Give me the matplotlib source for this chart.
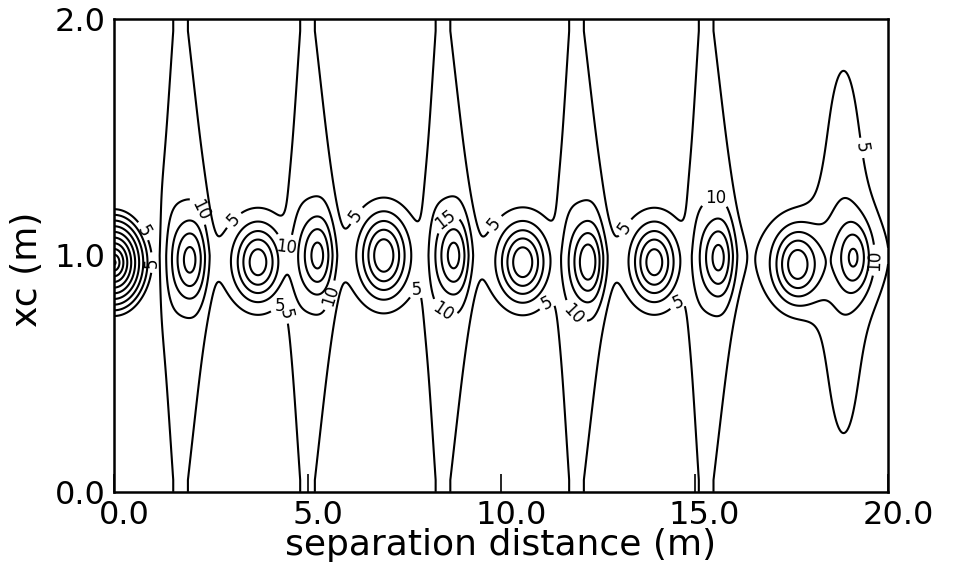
import numpy as np
import matplotlib.pyplot as plt
from matplotlib.transforms import ScaledTranslation

# peaks along the xc ~ 1 m row
peak_x = [1.96, 3.72, 5.26, 6.97, 8.78, 10.56, 12.25, 13.96, 15.62, 17.64, 19.14]
peak_y = [0.98, 0.97, 1.00, 1.00, 1.00, 0.97, 0.97, 0.97, 0.99, 0.96, 0.99]
peak_amp = [16, 24, 16, 25, 16, 25, 18, 24, 16, 24, 15]
peak_sx = [0.30, 0.42, 0.30, 0.42, 0.30, 0.42, 0.30, 0.40, 0.30, 0.42, 0.30]
peak_sy = [0.11, 0.11, 0.11, 0.12, 0.11, 0.11, 0.11, 0.11, 0.11, 0.11, 0.10]

# sharp peak at zero separation
cone_amp, cone_y, cone_rx, cone_ry = 52.0, 0.97, 1.05, 0.25

# vertical ridges: position at the edges and at mid height
ridge_x = [1.72, 5.00, 8.50, 11.95, 15.30]
ridge_mid = [1.85, 5.13, 8.64, 12.10, 15.46]
ridge_amp = 7.0

# the short ridge near the right edge
mound_x, mound_y, mound_amp, mound_sx, mound_sy = 18.85, 1.015, 8.0, 0.54, 0.79

band_amp, band_y, band_sy = 4.0, 1.0, 0.2

levels = [5, 10, 15, 20, 25, 30, 35, 40, 45, 50]

# label spots for the 5, 10 and 15 contours
lab5 = [(0.95, 1.12), (0.95, 0.97), (2.9, 1.18), (4.25, 0.82), (5.0, 0.8),
        (6.25, 1.17), (7.8, 0.87), (9.65, 1.16), (11.05, 0.83), (13.1, 1.13),
        (14.35, 0.85), (19.1, 1.45)]
lab10 = [(1.9, 1.17), (4.2, 1.0), (5.6, 0.83), (8.4, 0.74), (11.85, 0.75),
         (15.5, 1.28), (19.65, 0.98)]
lab15 = [(8.75, 1.12)]

x = np.linspace(0, 20, 1001)
y = np.linspace(0, 2, 401)
X, Y = np.meshgrid(x, y)
dy = np.abs(Y - 1.0)

Z = band_amp * np.exp(-0.5 * ((Y - band_y) / band_sy) ** 2) * (1 - np.exp(-(X / 1.1) ** 6))
r = np.sqrt((X / cone_rx) ** 2 + ((Y - cone_y) / cone_ry) ** 2)
Z += cone_amp * np.clip(1 - r, 0, None)
for px, py, a, sx, sy in zip(peak_x, peak_y, peak_amp, peak_sx, peak_sy):
    Z += a * np.exp(-0.5 * ((X - px) / sx) ** 2 - 0.5 * ((Y - py) / sy) ** 2)

# ridge half-width grows towards the middle row (diamond outline)
bulge = np.clip(1 - dy / 0.95, 0, None)
half = 0.19 + 0.52 * bulge * (1 - 0.5 * np.exp(-0.5 * (dy / 0.2) ** 2))
w = half / (2 * np.log(ridge_amp / 5)) ** 0.25
for rx, rm in zip(ridge_x, ridge_mid):
    xc = rx + (rm - rx) * bulge
    Z += ridge_amp * np.exp(-0.5 * ((X - xc) / w) ** 4)
Z += mound_amp * np.exp(-0.5 * ((X - mound_x) / mound_sx) ** 2
                        - 0.5 * ((Y - mound_y) / mound_sy) ** 2)

fig = plt.figure(figsize=(9.58, 5.8), dpi=100)
ax = fig.add_axes([0.119, 0.152, 0.808, 0.815])

for lev, pos in [(5, lab5), (10, lab10), (15, lab15)]:
    cs = ax.contour(X, Y, Z, levels=[lev], colors='black', linewidths=1.5)
    ax.clabel(cs, manual=pos, fmt='%d', fontsize=12, inline=True)
ax.contour(X, Y, Z, levels=levels[3:], colors='black', linewidths=1.5)

ax.set_xlim(0, 20)
ax.set_ylim(0, 2)
ax.set_xticks([0, 5, 10, 15, 20])
ax.set_xticklabels(['0.0', '5.0', '10.0', '15.0', '20.0'])
ax.set_yticks([0, 1, 2])
ax.set_yticklabels(['0.0', '1.0', '2.0'])
ax.tick_params(axis='x', direction='in', length=13, width=1.2, labelsize=23, pad=6)
ax.tick_params(axis='y', length=0, labelsize=23, pad=6)
for lbl in ax.get_xticklabels():
    lbl.set_transform(lbl.get_transform() + ScaledTranslation(0.1, 0, fig.dpi_scale_trans))
for s in ax.spines.values():
    s.set_linewidth(1.8)

ax.set_xlabel('separation distance (m)', fontsize=26, labelpad=-2)
ax.set_ylabel('xc (m)', fontsize=26)
ax.yaxis.set_label_coords(-0.09, 0.47)

fig.savefig('out.png', dpi=100)
